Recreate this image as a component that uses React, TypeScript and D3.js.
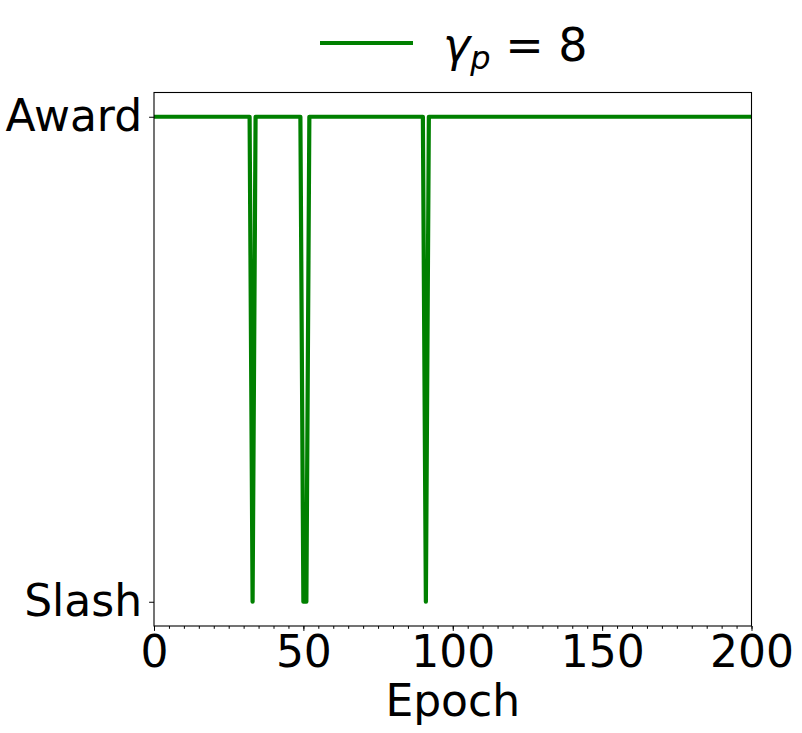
import React, { useEffect, useRef } from 'react';
import * as d3 from 'd3';

// 1 = Award, 0 = Slash, one value per epoch 0..200
const awardState = [
  1, 1, 1, 1, 1, 1, 1, 1, 1, 1, 1, 1, 1, 1, 1, 1, 1, 1, 1, 1,
  1, 1, 1, 1, 1, 1, 1, 1, 1, 1, 1, 1, 1, 0, 1, 1, 1, 1, 1, 1,
  1, 1, 1, 1, 1, 1, 1, 1, 1, 1, 0, 0, 1, 1, 1, 1, 1, 1, 1, 1,
  1, 1, 1, 1, 1, 1, 1, 1, 1, 1, 1, 1, 1, 1, 1, 1, 1, 1, 1, 1,
  1, 1, 1, 1, 1, 1, 1, 1, 1, 1, 1, 0, 1, 1, 1, 1, 1, 1, 1, 1,
  1, 1, 1, 1, 1, 1, 1, 1, 1, 1, 1, 1, 1, 1, 1, 1, 1, 1, 1, 1,
  1, 1, 1, 1, 1, 1, 1, 1, 1, 1, 1, 1, 1, 1, 1, 1, 1, 1, 1, 1,
  1, 1, 1, 1, 1, 1, 1, 1, 1, 1, 1, 1, 1, 1, 1, 1, 1, 1, 1, 1,
  1, 1, 1, 1, 1, 1, 1, 1, 1, 1, 1, 1, 1, 1, 1, 1, 1, 1, 1, 1,
  1, 1, 1, 1, 1, 1, 1, 1, 1, 1, 1, 1, 1, 1, 1, 1, 1, 1, 1, 1,
  1,
];
const xTicks = [0, 50, 100, 150, 200];
const yTickLabels = ['Slash', 'Award'];
const seriesColor = '#008000';

const App = () => {
  const ref = useRef<SVGSVGElement>(null);

  useEffect(() => {
    const width = 802;
    const height = 733;
    const margin = { top: 92.5, right: 50.5, bottom: 107, left: 154 };
    const font = 'DejaVu Sans, sans-serif';

    const svg = d3.select(ref.current);
    svg.selectAll('*').remove();

    const x = d3
      .scaleLinear()
      .domain([0, 200])
      .range([margin.left, width - margin.right]);
    // matplotlib-style 5% padding around the two states
    const y = d3
      .scaleLinear()
      .domain([-0.05, 1.05])
      .range([height - margin.bottom, margin.top]);

    svg
      .append('defs')
      .append('clipPath')
      .attr('id', 'plot-clip')
      .append('rect')
      .attr('x', margin.left)
      .attr('y', margin.top)
      .attr('width', width - margin.left - margin.right)
      .attr('height', height - margin.top - margin.bottom);

    const line = d3
      .line<number>()
      .x((d, i) => x(i))
      .y((d) => y(d));

    svg
      .append('path')
      .datum(awardState)
      .attr('clip-path', 'url(#plot-clip)')
      .attr('fill', 'none')
      .attr('stroke', seriesColor)
      .attr('stroke-width', 4.2)
      .attr('stroke-linejoin', 'round')
      .attr('d', line);

    // x axis: minor ticks every 5 epochs, major every 50
    const xAxis = svg
      .append('g')
      .attr('transform', `translate(0,${height - margin.bottom})`);
    xAxis
      .call(
        d3
          .axisBottom(x)
          .tickValues(d3.range(0, 201, 5))
          .tickSize(2.8)
          .tickFormat(() => '')
      )
      .call((g) => g.select('.domain').remove());
    xAxis
      .append('g')
      .call(d3.axisBottom(x).tickValues(xTicks).tickSize(4.9).tickPadding(5))
      .call((g) => g.select('.domain').remove())
      .call((g) =>
        g
          .selectAll('text')
          .attr('font-family', font)
          .attr('font-size', 44)
          .attr('fill', '#000')
      );
    xAxis.selectAll('line').attr('stroke', '#000').attr('stroke-width', 1);

    // y axis
    const yAxis = svg.append('g').attr('transform', `translate(${margin.left},0)`);
    yAxis
      .call(
        d3
          .axisLeft(y)
          .tickValues([0, 1])
          .tickSize(4.9)
          .tickPadding(7)
          .tickFormat((d) => yTickLabels[+d])
      )
      .call((g) => g.select('.domain').remove())
      .call((g) =>
        g
          .selectAll('text')
          .attr('font-family', font)
          .attr('font-size', 44)
          .attr('fill', '#000')
      );
    yAxis.selectAll('line').attr('stroke', '#000').attr('stroke-width', 1);

    // frame
    svg
      .append('rect')
      .attr('x', margin.left)
      .attr('y', margin.top)
      .attr('width', width - margin.left - margin.right)
      .attr('height', height - margin.top - margin.bottom)
      .attr('fill', 'none')
      .attr('stroke', '#000')
      .attr('stroke-width', 1.1);

    // x label
    svg
      .append('text')
      .attr('x', (margin.left + width - margin.right) / 2)
      .attr('y', 716)
      .attr('text-anchor', 'middle')
      .attr('font-family', font)
      .attr('font-size', 44)
      .text('Epoch');

    // legend
    const legend = svg.append('g');
    legend
      .append('line')
      .attr('x1', 320)
      .attr('x2', 413)
      .attr('y1', 43)
      .attr('y2', 43)
      .attr('stroke', seriesColor)
      .attr('stroke-width', 4.2);
    const lt = legend
      .append('text')
      .attr('x', 443)
      .attr('y', 61)
      .attr('font-family', font)
      .attr('font-size', 46);
    lt.append('tspan').attr('font-style', 'italic').text('γ');
    lt.append('tspan')
      .attr('font-style', 'italic')
      .attr('font-size', 32)
      .attr('dy', 8)
      .text('p');
    lt.append('tspan').attr('dy', -8).text('\u00a0= 8');
  }, []);

  return (
    <svg
      ref={ref}
      width={802}
      height={733}
      style={{ position: 'absolute', left: 0, top: 0, background: '#fff' }}
    />
  );
};

export default App;
